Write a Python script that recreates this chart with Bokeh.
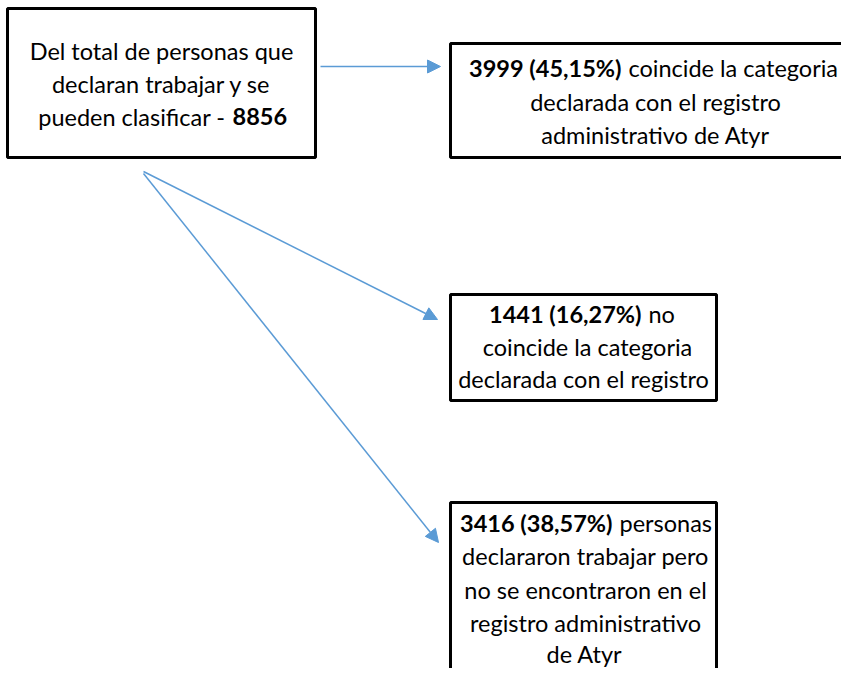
from bokeh.plotting import figure
from bokeh.models import Range1d, Arrow, NormalHead
from bokeh.core.properties import value
from bokeh.embed import file_html
from bokeh.resources import INLINE

# Box geometry (screen-like coordinates, y grows downward)
box_left = [7, 450, 450, 450]
box_right = [315, 870, 716, 716]
box_top = [8, 43, 294, 502]
box_bottom = [157, 157, 400, 720]

# Arrows: start and end points
arr_x0 = [320, 143, 143]
arr_y0 = [66, 171, 173]
arr_x1 = [440, 437, 438]
arr_y1 = [66, 319, 542]

# Plain lines (centered)
plain_text = [
    "Del total de personas que",
    "declaran trabajar y se",
    "declarada con el registro",
    "administrativo de Atyr",
    "coincide la categoria",
    "declarada con el registro",
    "declararon trabajar pero",
    "no se encontraron en el",
    "registro administrativo",
    "de Atyr",
]
plain_x = [161, 161, 655, 655, 587, 583, 585, 585, 585, 584]
plain_y = [50, 83, 101, 134, 346, 378, 555, 589, 622, 653]

# Mixed lines: bold part (right aligned) + normal part (left aligned)
bold_text = ["3999 (45,15%)", "1441 (16,27%)", "3416 (38,57%)"]
bold_x = [621, 641, 612]
bold_y = [67, 313, 522]
norm_text = ["coincide la categoria", "no", "personas"]
norm_x = [628, 648, 619]
norm_y = [67, 313, 522]

# Box 1 last line: normal part then bold number
b1_norm_text = ["pueden clasificar -"]
b1_norm_x = [225]
b1_norm_y = [116]
b1_bold_text = ["8856"]
b1_bold_x = [232]
b1_bold_y = [116]

FONT = "Lato"
FS = "23.5px"
BLUE = "#5B9BD5"

p = figure(width=841, height=668, output_backend="svg", toolbar_location=None,
           x_range=Range1d(0, 841), y_range=Range1d(668, 0), min_border=0)
p.axis.visible = False
p.grid.visible = False
p.outline_line_color = None
p.background_fill_color = "white"

p.quad(left=box_left, right=box_right, top=box_top, bottom=box_bottom,
       fill_color="white", line_color="black", line_width=3)

for x0, y0, x1, y1 in zip(arr_x0, arr_y0, arr_x1, arr_y1):
    p.add_layout(Arrow(x_start=x0, y_start=y0, x_end=x1, y_end=y1,
                       line_color=BLUE, line_width=1.5,
                       end=NormalHead(size=13, fill_color=BLUE, line_color=BLUE, line_width=1)))

p.text(x=plain_x, y=plain_y, text=plain_text, text_align="center", text_baseline="middle",
       text_font=value(FONT), text_font_size=FS, text_color="black")
p.text(x=bold_x, y=bold_y, text=bold_text, text_align="right", text_baseline="middle",
       text_font=value(FONT), text_font_size=FS, text_font_style="bold", text_color="black")
p.text(x=norm_x, y=norm_y, text=norm_text, text_align="left", text_baseline="middle",
       text_font=value(FONT), text_font_size=FS, text_color="black")
p.text(x=b1_norm_x, y=b1_norm_y, text=b1_norm_text, text_align="right", text_baseline="middle",
       text_font=value(FONT), text_font_size=FS, text_color="black")
p.text(x=b1_bold_x, y=b1_bold_y, text=b1_bold_text, text_align="left", text_baseline="middle",
       text_font=value(FONT), text_font_size=FS, text_font_style="bold", text_color="black")

open("out.html", "w").write(file_html(p, INLINE))
